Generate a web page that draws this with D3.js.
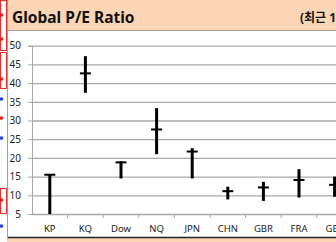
<!DOCTYPE html>
<html>
<head>
<meta charset="utf-8">
<script src="https://cdn.jsdelivr.net/npm/d3@7"></script>
<style>
  html, body { margin: 0; padding: 0; background: #fff; overflow: hidden; }
  svg { display: block; font-family: "Noto Sans", "Noto Sans CJK KR", sans-serif; }
</style>
</head>
<body>
<div id="chart"></div>
<script>
const categories = ["KP", "KQ", "Dow", "NQ", "JPN", "CHN", "GBR", "FRA", "GER"];
const highs    = [15.5, 47.2, 19.1, 33.3, 22.6, 12.3, 13.6, 17.0, 15.0];
const lows     = [5.0, 37.4, 14.5, 21.0, 14.5, 8.9, 8.5, 9.4, 9.6];
const currents = [15.5, 42.6, 18.8, 27.6, 21.7, 11.1, 12.1, 14.1, 12.8];
const y_ticks  = [5, 10, 15, 20, 25, 30, 35, 40, 45, 50];

const width = 336, height = 242;
const margin = { top: 45.7, left: 32, bottom: 214 };
const step = 35.6;

const data = categories.map((c, i) => ({ name: c, high: highs[i], low: lows[i], cur: currents[i] }));

const svg = d3.select("#chart").append("svg")
  .attr("width", width)
  .attr("height", height);

// sheet background pieces
svg.append("rect").attr("x", 7).attr("y", 0).attr("width", width).attr("height", 30).attr("fill", "#fbd5b6");
svg.append("line").attr("x1", 7).attr("x2", width).attr("y1", 30.5).attr("y2", 30.5).attr("stroke", "#a0a0a0");
svg.append("rect").attr("x", 7).attr("y", 238).attr("width", width).attr("height", 4).attr("fill", "#fbd5b6");
svg.append("line").attr("x1", 7).attr("x2", width).attr("y1", 237.5).attr("y2", 237.5).attr("stroke", "#222").attr("stroke-width", 1.5);
svg.append("line").attr("x1", 7.5).attr("x2", 7.5).attr("y1", 0).attr("y2", 238).attr("stroke", "#a0a0a0");

// left strip of neighbouring cells
const strip = svg.append("g");
[[0, 50], [52, 36], [188, 25]].forEach(([y0, h]) =>
  strip.append("rect").attr("x", 0.5).attr("y", y0 + 0.5).attr("width", 6).attr("height", h)
    .attr("fill", "none").attr("stroke", "#e03030"));
[[15, "#e02020"], [39, "#e02020"], [79, "#e02020"], [99, "#2040e0"], [118, "#e02020"], [138, "#2040e0"], [200, "#e02020"], [226, "#2040e0"]]
  .forEach(([cy, c]) => strip.append("circle").attr("cx", 1.5).attr("cy", cy).attr("r", 1.8).attr("fill", c));

// title
svg.append("text").attr("x", 12).attr("y", 23)
  .attr("font-size", 15.5).attr("font-weight", "bold").attr("fill", "#111")
  .text("Global P/E Ratio");
svg.append("text").attr("x", 300).attr("y", 22)
  .attr("font-size", 12).attr("font-weight", "bold").attr("fill", "#111")
  .text("(최근 10년)");

const x = d3.scaleBand()
  .domain(categories)
  .range([margin.left, margin.left + step * categories.length])
  .padding(0);

const y = d3.scaleLinear()
  .domain([5, 50])
  .range([margin.bottom, margin.top]);

// gridlines + y axis
svg.append("g")
  .attr("transform", `translate(${margin.left},0)`)
  .call(d3.axisLeft(y).tickValues(y_ticks).tickSize(4).tickPadding(7))
  .call(g => g.select(".domain").attr("stroke", "#a6a6a6"))
  .call(g => g.selectAll(".tick line").attr("stroke", "#a6a6a6"))
  .call(g => g.selectAll(".tick").append("line")
    .attr("x1", 0).attr("x2", width).attr("stroke", "#a8a8a8").attr("stroke-width", 1.3))
  .call(g => g.selectAll("text").attr("font-size", 10).attr("fill", "#222").attr("font-family", "Noto Sans"));

// x axis
svg.append("g")
  .attr("transform", `translate(0,${margin.bottom})`)
  .call(d3.axisBottom(x).tickSize(0).tickPadding(11))
  .call(g => g.select(".domain").attr("stroke", "#a6a6a6"))
  .call(g => g.selectAll("text").attr("font-size", 9.5).attr("fill", "#222").attr("font-family", "Noto Sans"));

svg.append("g")
  .selectAll("line")
  .data(categories)
  .join("line")
    .attr("x1", d => x(d) + x.bandwidth()).attr("x2", d => x(d) + x.bandwidth())
    .attr("y1", margin.bottom).attr("y2", margin.bottom + 4)
    .attr("stroke", "#a6a6a6");

// high-low lines
const marks = svg.append("g");
marks.selectAll("line.hl")
  .data(data)
  .join("line")
    .attr("class", "hl")
    .attr("x1", d => x(d.name) + x.bandwidth() / 2)
    .attr("x2", d => x(d.name) + x.bandwidth() / 2)
    .attr("y1", d => y(d.low))
    .attr("y2", d => y(d.high))
    .attr("stroke", "#000")
    .attr("stroke-width", 3);

marks.selectAll("line.cur")
  .data(data)
  .join("line")
    .attr("class", "cur")
    .attr("x1", d => x(d.name) + x.bandwidth() / 2 - 5.5)
    .attr("x2", d => x(d.name) + x.bandwidth() / 2 + 5.5)
    .attr("y1", d => y(d.cur))
    .attr("y2", d => y(d.cur))
    .attr("stroke", "#000")
    .attr("stroke-width", 2);
</script>
</body>
</html>
